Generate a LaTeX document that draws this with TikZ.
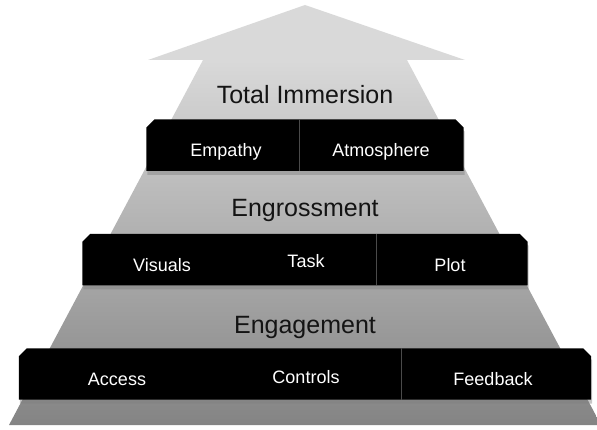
\documentclass[tikz,border=0pt]{standalone}
\usepackage{fontspec}
\setmainfont{Liberation Sans}
\usepackage{xcolor}
\usepackage{tikz}
\usetikzlibrary{calc,positioning,shadows}
\definecolor{arrowtop}{HTML}{D9D9D9}
\definecolor{arrowbottom}{HTML}{848484}
\definecolor{divider}{HTML}{4A4A4A}
\definecolor{caption}{HTML}{141414}

\tikzset{
  bar/.style={rectangle, inner sep=0pt, minimum height=51pt},
  barfill/.style={fill=black, drop shadow={shadow xshift=1pt, shadow yshift=-4pt, opacity=0.45}},
  cell/.style={anchor=base, text=white, font=\fontsize{18}{20}\selectfont},
  level/.style={anchor=base, text=caption, font=\fontsize{25}{28}\selectfont},
  split/.style={draw=divider, line width=0.6pt},
}

\begin{document}
\begin{tikzpicture}[x=1pt, y=-1pt]
  \useasboundingbox (0,0) rectangle (597,430);
  \clip (0,0) rectangle (597,430);

  % the arrow
  \fill[arrowtop] (305,5) -- (465,60) -- (148,60) -- cycle;
  \shade[top color=arrowtop, bottom color=arrowbottom]
    (203,60) -- (407,60) -- (601,425) -- (9,425) -- cycle;

  % bars
  \node[bar, minimum width=572pt] (low) at (305,374) {};
  \node[bar, minimum width=445pt, above=63pt of low] (mid) {};
  \node[bar, minimum width=317pt, above=63pt of mid] (top) {};

  \foreach \b in {low,mid,top}
    \fill[barfill] (\b.south west) -- ([yshift=-8pt]\b.north west) -- ([xshift=8pt]\b.north west)
      -- ([xshift=-8pt]\b.north east) -- ([yshift=-8pt]\b.north east) -- (\b.south east) -- cycle;

  \draw[split] ([xshift=-6pt]top.north) -- ([xshift=-6pt]top.south);
  \draw[split] ([xshift=71pt]mid.north) -- ([xshift=71pt]mid.south);
  \draw[split] ([xshift=96pt]low.north) -- ([xshift=96pt]low.south);

  % levels
  \node[level] (immersion) at ([yshift=16pt]top.north) {Total Immersion};
  \node[level] (engrossment) at ([yshift=17pt]mid.north) {Engrossment};
  \node[level] (engagement) at ([yshift=15pt]low.north) {Engagement};

  % cells
  \node[cell] (empathy) at ([xshift=-79pt, yshift=-11pt]top.center) {Empathy};
  \node[cell] (atmosphere) at ([xshift=76pt, yshift=-11pt]top.center) {Atmosphere};
  \node[cell] (visuals) at ([xshift=-143pt, yshift=-12pt]mid.center) {Visuals};
  \node[cell] (task) at ([xshift=1pt, yshift=-8pt]mid.center) {Task};
  \node[cell] (plot) at ([xshift=145pt, yshift=-12pt]mid.center) {Plot};
  \node[cell] (access) at ([xshift=-188pt, yshift=-11pt]low.center) {Access};
  \node[cell] (controls) at ([xshift=1pt, yshift=-9pt]low.center) {Controls};
  \node[cell] (feedback) at ([xshift=188pt, yshift=-11pt]low.center) {Feedback};
\end{tikzpicture}
\end{document}
